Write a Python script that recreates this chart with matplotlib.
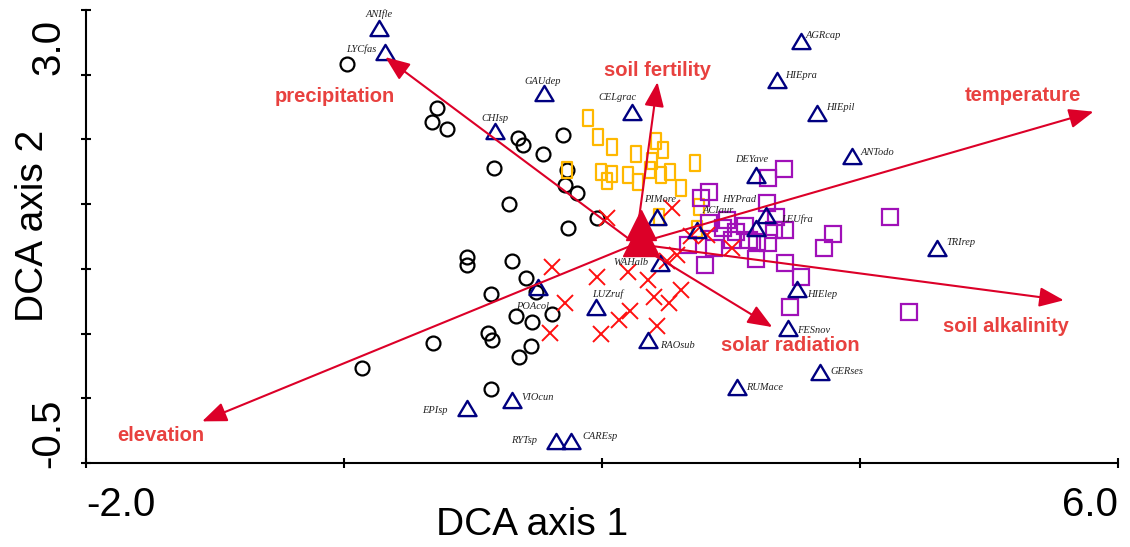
import numpy as np
import matplotlib.pyplot as plt
from matplotlib.path import Path

# sample scores, one group per marker type
circle_x = [0.02, 0.72, 0.68, 0.80, 1.35, 1.39, 1.70, 1.54, 1.16, 1.73, 1.71, 1.81, 1.28, 1.96, 1.74, 0.95,
            0.95, 1.30, 1.41, 1.49, 1.14, 1.33, 1.46, 1.61, 1.12, 1.15, 0.69, 1.45, 1.36, 0.14, 1.14]
circle_y = [3.12, 2.64, 2.49, 2.41, 2.31, 2.24, 2.35, 2.14, 1.99, 1.97, 1.81, 1.72, 1.60, 1.45, 1.34, 1.03,
            0.94, 0.98, 0.80, 0.65, 0.63, 0.39, 0.33, 0.41, 0.21, 0.13, 0.10, 0.06, -0.05, -0.17, -0.40]

yellow_x = [1.89, 1.97, 2.08, 2.26, 2.42, 2.47, 2.39, 1.99, 2.08, 2.04, 2.20, 2.28, 2.37, 2.46, 2.53, 2.72,
            2.61, 2.75, 2.44, 2.74, 1.73]
yellow_y = [2.53, 2.33, 2.22, 2.14, 2.28, 2.18, 2.07, 1.95, 1.93, 1.85, 1.91, 1.84, 1.97, 1.91, 1.95, 2.04,
            1.77, 1.57, 1.46, 1.33, 1.97]

purple_x = [3.41, 3.29, 2.83, 2.77, 3.28, 3.35, 2.97, 2.83, 2.94, 3.04, 3.01, 3.14, 3.20, 3.29, 3.33, 3.42,
            2.67, 2.87, 2.80, 3.19, 3.42, 3.54, 3.46, 3.79, 3.72, 4.23, 4.38, 3.11]
purple_y = [1.98, 1.88, 1.73, 1.67, 1.61, 1.46, 1.43, 1.40, 1.34, 1.30, 1.21, 1.21, 1.19, 1.18, 1.32, 1.32,
            1.16, 1.13, 0.94, 1.01, 0.96, 0.81, 0.49, 1.28, 1.13, 1.46, 0.43, 1.36]

cross_x = [2.54, 2.04, 2.69, 2.81, 3.01, 2.58, 2.50, 1.61, 2.20, 2.36, 1.96, 1.71, 2.40, 2.61, 2.52, 2.22,
           2.13, 2.43, 1.99, 1.60]
cross_y = [1.56, 1.45, 1.25, 1.27, 1.13, 1.05, 0.99, 0.92, 0.87, 0.78, 0.81, 0.53, 0.60, 0.67, 0.53, 0.44,
           0.35, 0.28, 0.19, 0.21]

# species scores
species = ['ANIfle', 'LYCfas', 'GAUdep', 'CHIsp', 'CELgrac', 'AGRcap', 'HIEpra', 'HIEpil', 'ANTodo',
           'DEYave', 'HYPrad', 'LEUfra', 'PIMore', 'ACIaur', 'TRIrep', 'WAHalb', 'HIElep', 'FESnov',
           'LUZruf', 'RAOsub', 'POAcol', 'GERses', 'RUMace', 'VIOcun', 'EPIsp', 'RYTsp', 'CAREsp']
species_x = [0.27, 0.32, 1.55, 1.17, 2.23, 3.54, 3.36, 3.67, 3.94, 3.19, 3.27, 3.19, 2.43, 2.74, 4.60,
             2.45, 3.51, 3.44, 1.95, 2.36, 1.50, 3.69, 3.05, 1.30, 0.95, 1.64, 1.76]
species_y = [3.51, 3.24, 2.80, 2.39, 2.60, 3.36, 2.94, 2.59, 2.12, 1.92, 1.48, 1.34, 1.46, 1.32, 1.13,
             0.96, 0.68, 0.26, 0.49, 0.13, 0.70, -0.22, -0.38, -0.52, -0.60, -0.96, -0.96]

# environmental variables
env_names = ['precipitation', 'soil fertility', 'temperature', 'soil alkalinity', 'solar radiation', 'elevation']
env_x = [0.32, 2.43, 5.81, 5.58, 3.32, -1.10]
env_y = [3.19, 2.92, 2.60, 0.56, 0.27, -0.75]
env_label_x = [-0.07, 2.43, 5.26, 5.13, 3.46, -1.42]
env_label_y = [2.76, 3.04, 2.77, 0.28, 0.07, -0.90]
origin = (2.26, 1.17)

# nominal variable centroids (big red triangles)
centroid_x = [2.30, 2.30]
centroid_y = [1.37, 1.23]

# label offsets for species (pixels, y up) and alignment
lab_off = {
    'ANIfle': (0, 13, 'center'), 'LYCfas': (-9, 3, 'right'), 'GAUdep': (-1, 12, 'center'),
    'CHIsp': (0, 13, 'center'), 'CELgrac': (-14, 14, 'center'), 'AGRcap': (5, 6, 'left'),
    'HIEpra': (8, 5, 'left'), 'HIEpil': (9, 5, 'left'), 'ANTodo': (8, 4, 'left'),
    'DEYave': (-4, 15, 'center'), 'HYPrad': (-10, 16, 'right'), 'LEUfra': (26, 9, 'left'),
    'PIMore': (3, 18, 'center'), 'ACIaur': (5, 19, 'left'), 'TRIrep': (9, 5, 'left'),
    'WAHalb': (-12, 1, 'right'), 'HIElep': (10, -5, 'left'), 'FESnov': (9, -3, 'left'),
    'LUZruf': (12, 13, 'center'), 'RAOsub': (12, -5, 'left'), 'POAcol': (-5, -19, 'center'),
    'GERses': (10, 1, 'left'), 'RUMace': (9, 0, 'left'), 'VIOcun': (10, 3, 'left'),
    'EPIsp': (-19, -3, 'right'), 'RYTsp': (-19, 0, 'right'), 'CAREsp': (11, 4, 'left'),
}

arrow_col = '#DC0028'
label_col = '#E8413F'

tri = Path([(0, 0.42), (-0.5, -0.42), (0.5, -0.42), (0, 0.42)],
           [Path.MOVETO, Path.LINETO, Path.LINETO, Path.CLOSEPOLY])
rect = Path([(-0.3, -0.5), (0.3, -0.5), (0.3, 0.5), (-0.3, 0.5), (-0.3, -0.5)],
            [Path.MOVETO, Path.LINETO, Path.LINETO, Path.LINETO, Path.CLOSEPOLY])

fig = plt.figure(figsize=(11.3, 5.47), dpi=100)
ax = fig.add_axes([0.0761, 0.1536, 0.9133, 0.8282])

ax.plot(circle_x, circle_y, 'o', ms=10, mfc='none', mec='black', mew=1.6, zorder=2)
ax.plot(yellow_x, yellow_y, marker=rect, ls='none', ms=11, mfc='none', mec='#FFB800', mew=1.6, zorder=2)
ax.plot(purple_x, purple_y, 's', ms=11, mfc='none', mec='#A010B8', mew=1.6, zorder=2)
ax.plot(cross_x, cross_y, 'x', ms=11, mec='#FF1010', mew=1.4, zorder=2)
ax.plot(species_x, species_y, marker=tri, ls='none', ms=13, mfc='none', mec='#000080', mew=1.7,
        zorder=3, clip_on=False)

for name, x, y in zip(species, species_x, species_y):
    dx, dy, ha = lab_off[name]
    ax.annotate(name, (x, y), xytext=(dx * 0.72, dy * 0.72), textcoords='offset points',
                ha=ha, va='center', fontsize=7.5, style='italic', family='Liberation Serif',
                color='#222222', zorder=5, annotation_clip=False)

for name, x, y, lx, ly in zip(env_names, env_x, env_y, env_label_x, env_label_y):
    ax.annotate('', xy=(x, y), xytext=origin,
                arrowprops=dict(arrowstyle='-|>,head_length=1.0,head_width=0.4', color=arrow_col,
                                lw=1.5, mutation_scale=15, shrinkA=0, shrinkB=0), zorder=4)
    ax.text(lx, ly, name, color=label_col, fontsize=14.5, fontweight='bold',
            family='Liberation Sans', ha='center', va='center', zorder=5)

ax.plot(centroid_x[:1], centroid_y[:1], '^', ms=22, color=arrow_col, zorder=4)
ax.plot(centroid_x[1:], centroid_y[1:], '^', ms=26, color=arrow_col, zorder=4)

ax.set_xlim(-2, 6)
ax.set_ylim(-1.2, 3.7)
for s in ['top', 'right']:
    ax.spines[s].set_visible(False)
for s in ['left', 'bottom']:
    ax.spines[s].set_linewidth(1.5)

ax.set_xticks([-2, 0, 2, 4, 6], ['-2.0', '', '', '', '6.0'])
ax.set_yticks([-1.2, -0.5, 0.2, 0.9, 1.6, 2.3, 3.0, 3.7], ['', '-0.5', '', '', '', '', '3.0', ''])
ax.tick_params(direction='inout', length=7, width=1.5, labelsize=29)
ax.tick_params(axis='x', pad=13)
ax.tick_params(axis='y', pad=10)
for t in ax.get_xticklabels() + ax.get_yticklabels():
    t.set_family('Liberation Sans')
xl = ax.get_xticklabels()
xl[0].set_ha('left')
xl[-1].set_ha('right')
for t in ax.get_yticklabels():
    t.set_rotation(90)
    t.set_va('center')
yl = ax.get_yticklabels()
yl[1].set_va('top')
yl[6].set_va('bottom')

ax.set_xlabel('DCA axis 1', fontsize=28, family='Liberation Sans')
ax.set_ylabel('DCA axis 2', fontsize=28, family='Liberation Sans')
ax.xaxis.set_label_coords(0.432, -0.097)
ax.yaxis.set_label_coords(-0.034, 0.523)

fig.savefig('out.png', dpi=100)
